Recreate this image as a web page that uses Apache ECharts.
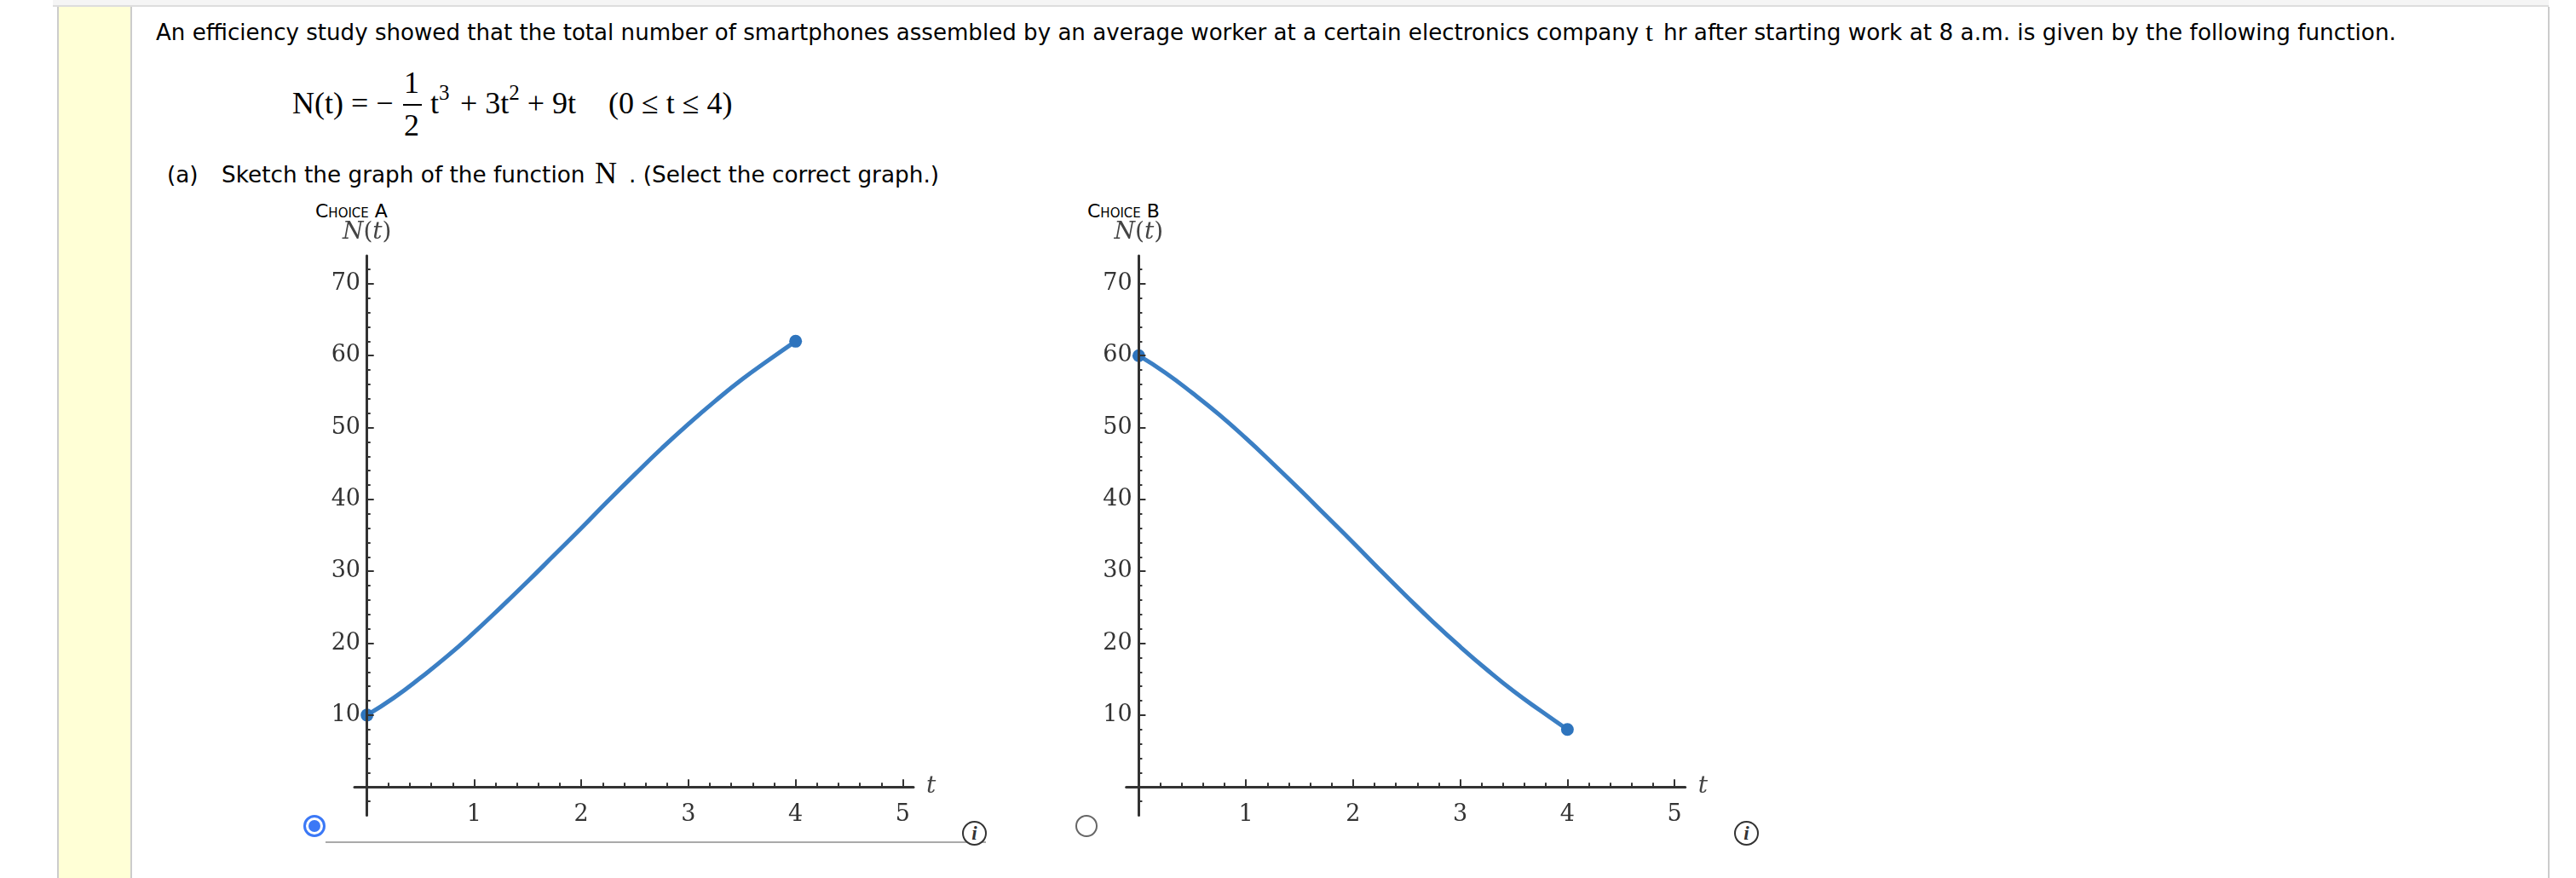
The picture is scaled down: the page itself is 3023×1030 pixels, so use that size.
<!DOCTYPE html>
<html>
<head>
<meta charset="utf-8">
<script src="https://cdn.jsdelivr.net/npm/echarts@6/dist/echarts.min.js"></script>
<style>
  html, body { margin: 0; padding: 0; background: #fff; width: 3023px; height: 1030px; overflow: hidden; }
  .box { position: absolute; }
  .txt { position: absolute; white-space: nowrap; color: #000; font-family: "DejaVu Sans", sans-serif; font-size: 26.3px; line-height: 30px; }
  .math { position: absolute; white-space: nowrap; color: #000; font-family: "Liberation Serif", serif; font-size: 36px; line-height: 40px; }
  .math sup { font-size: 25px; line-height: 0; position: relative; top: -3px; vertical-align: super; }
  .choice { position: absolute; white-space: nowrap; color: #000; font-family: "DejaVu Sans", sans-serif; font-variant: small-caps; font-size: 22px; line-height: 24px; }
  .radio { position: absolute; box-sizing: border-box; width: 26px; height: 26px; border-radius: 50%; background: #fff; top: 956px; }
  .info { position: absolute; box-sizing: border-box; width: 29px; height: 29px; border-radius: 50%; border: 2px solid #333; background: #fff; top: 963px; text-align: center; font: italic bold 23px/25px "Liberation Serif", serif; color: #333; }
  #chart { position: absolute; left: 0; top: 0; width: 3023px; height: 1030px; }
</style>
</head>
<body>
<div class="box" style="left:62px;top:0;width:2929px;height:6px;background:#f5f5f5;border-bottom:2px solid #ddd"></div>
<div class="box" style="left:67px;top:8px;width:84px;height:1022px;background:#ffffd6;border-left:2px solid #ccc;border-right:2px solid #ccc"></div>
<div class="box" style="left:2990px;top:8px;width:2px;height:1022px;background:#ccc"></div>

<div class="txt" style="left:183px;top:23px;font-size:26.1px">An efficiency study showed that the total number of smartphones assembled by an average worker at a certain electronics company</div>
<div class="math" style="left:1931px;top:17px;font-size:32px">t</div>
<div class="txt" style="left:1952px;top:23px">hr after starting work at 8 a.m. is given by the following function.</div>

<div class="math" style="left:343px;top:101px">N(t) = &minus;</div>
<div class="math" style="left:474px;top:77px">1</div>
<div class="box" style="left:473px;top:122px;width:22px;height:2px;background:#000"></div>
<div class="math" style="left:474px;top:127px">2</div>
<div class="math" style="left:505px;top:101px">t<sup>3</sup></div>
<div class="math" style="left:540px;top:101px">+ 3t<sup>2</sup> + 9t</div>
<div class="math" style="left:714px;top:101px">(0 &le; t &le; 4)</div>

<div class="txt" style="left:196px;top:190px">(a)</div>
<div class="txt" style="left:260px;top:190px">Sketch the graph of the function</div>
<div class="math" style="left:698px;top:183px">N</div>
<div class="txt" style="left:738px;top:190px">. (Select the correct graph.)</div>

<div class="choice" style="left:370px;top:236px">Choice A</div>
<div class="choice" style="left:1276px;top:236px">Choice B</div>

<div class="radio" style="left:356px;border:3px solid #3b78f6"><div style="position:absolute;left:3px;top:3px;width:14px;height:14px;border-radius:50%;background:#3b78f6"></div></div>
<div class="radio" style="left:1262px;border:2px solid #666"></div>
<div class="box" style="left:382px;top:987px;width:775px;height:2px;background:#aaa"></div>
<div class="info" style="left:1129px">i</div>
<div class="info" style="left:2035px">i</div>

<div id="chart"></div>

<script>
const tValues = [0, 0.25, 0.5, 0.75, 1, 1.25, 1.5, 1.75, 2, 2.25, 2.5, 2.75, 3, 3.25, 3.5, 3.75, 4]
const choiceA = [10, 12.4, 15.2, 18.2, 21.5, 25, 28.6, 32.3, 36, 39.8, 43.5, 47.1, 50.5, 53.7, 56.7, 59.4, 62]
const choiceB = [60, 57.6, 54.8, 51.8, 48.5, 45, 41.4, 37.7, 34, 30.2, 26.5, 22.9, 19.5, 16.3, 13.3, 10.6, 8]

const xMajor = [1, 2, 3, 4, 5]
const xMinor = [0.2, 0.4, 0.6, 0.8, 1.2, 1.4, 1.6, 1.8, 2.2, 2.4, 2.6, 2.8, 3.2, 3.4, 3.6, 3.8, 4.2, 4.4, 4.6, 4.8]
const yMajor = [10, 20, 30, 40, 50, 60, 70]
const yMinor = [-2, 2, 4, 6, 8, 12, 14, 16, 18, 22, 24, 26, 28, 32, 34, 36, 38, 42, 44, 46, 48, 52, 54, 56, 58, 62, 64, 66, 68, 72]

const axisColor = '#333'
const lineColor = '#3b7fc4'
const dotColor = '#2e74bd'

const nameStyle = {
  rich: {
    i: { fontFamily: 'DejaVu Serif', fontStyle: 'italic', fontSize: 28, color: '#444' },
    r: { fontFamily: 'DejaVu Serif', fontSize: 28, color: '#444' }
  }
}

function xAxes(gridIndex) {
  const base = { type: 'value', gridIndex: gridIndex, position: 'bottom', min: -0.117, max: 5.1, z: 5, splitLine: { show: false } }
  return [
    {
      ...base,
      name: '{i|t}',
      nameGap: 15,
      nameTextStyle: nameStyle,
      axisLine: { show: true, onZero: true, lineStyle: { color: axisColor, width: 3 } },
      axisTick: { show: true, inside: true, length: 9, lineStyle: { color: axisColor, width: 2 }, customValues: xMajor },
      axisLabel: { customValues: xMajor, margin: -14, fontFamily: 'DejaVu Serif', fontSize: 27, color: axisColor }
    },
    {
      ...base,
      axisLine: { show: false, onZero: true },
      axisTick: { show: true, inside: true, length: 5, lineStyle: { color: axisColor, width: 2 }, customValues: xMinor },
      axisLabel: { show: false }
    }
  ]
}

function yAxes(gridIndex) {
  const base = { type: 'value', gridIndex: gridIndex, position: 'left', min: -3.94, max: 73.9, z: 5, splitLine: { show: false } }
  return [
    {
      ...base,
      name: '{i|N}{r|(}{i|t}{r|)}',
      nameGap: 13,
      nameTextStyle: nameStyle,
      axisLine: { show: true, onZero: true, lineStyle: { color: axisColor, width: 3 } },
      axisTick: { show: true, inside: true, length: 8, lineStyle: { color: axisColor, width: 2 }, customValues: yMajor },
      axisLabel: { customValues: yMajor, margin: -7, padding: [3, 0, 0, 0], fontFamily: 'DejaVu Serif', fontSize: 27, color: axisColor }
    },
    {
      ...base,
      axisLine: { show: false, onZero: true },
      axisTick: { show: true, inside: true, length: 4, lineStyle: { color: axisColor, width: 2 }, customValues: yMinor },
      axisLabel: { show: false }
    }
  ]
}

function toPoints(values) {
  return tValues.map((t, i) => [t, values[i]])
}

function curve(values, axisIndex) {
  const points = toPoints(values)
  return [
    {
      type: 'line',
      xAxisIndex: axisIndex,
      yAxisIndex: axisIndex,
      data: points,
      smooth: 0.5,
      showSymbol: false,
      clip: false,
      z: 1,
      lineStyle: { color: lineColor, width: 5 }
    },
    {
      type: 'scatter',
      xAxisIndex: axisIndex,
      yAxisIndex: axisIndex,
      data: [points[0], points[points.length - 1]],
      symbolSize: 15,
      clip: false,
      z: 1,
      itemStyle: { color: dotColor, opacity: 1 }
    }
  ]
}

const chart = echarts.init(document.getElementById('chart'), null, { renderer: 'canvas' })
chart.setOption({
  animation: false,
  backgroundColor: 'transparent',
  grid: [
    { left: 416, top: 300, width: 656, height: 656.4 },
    { left: 1321.7, top: 300, width: 656, height: 656.4 }
  ],
  xAxis: [...xAxes(0), ...xAxes(1)],
  yAxis: [...yAxes(0), ...yAxes(1)],
  series: [...curve(choiceA, 0), ...curve(choiceB, 2)]
})
</script>
</body>
</html>
